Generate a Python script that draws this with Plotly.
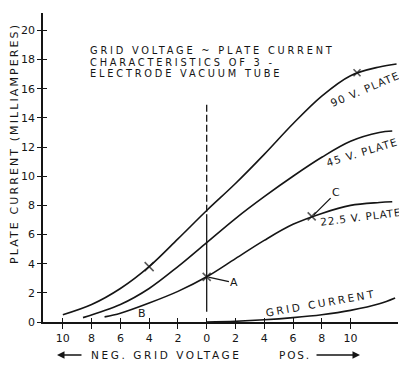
import plotly.graph_objects as go

# ---- data (grid volts, plate milliamperes) ----
v90 = [-10, -8, -6, -4, -2, 0, 2, 4, 6, 8, 10, 12, 13.2]
i90 = [0.5, 1.2, 2.3, 3.8, 5.7, 7.65, 9.5, 11.5, 13.6, 15.5, 16.9, 17.5, 17.7]
v45 = [-8.6, -6, -4, -2, 0, 2, 4, 6, 8, 10, 12, 12.9]
i45 = [0.3, 1.2, 2.3, 3.8, 5.45, 7.1, 8.6, 10.0, 11.3, 12.4, 13.0, 13.1]
v22 = [-7.1, -6, -4, -2, 0, 2, 4, 6, 8, 10, 12, 12.9]
i22 = [0.35, 0.6, 1.3, 2.1, 3.1, 4.35, 5.6, 6.7, 7.45, 8.0, 8.2, 8.25]
vg = [0, 2, 4, 6, 8, 10, 12, 13.1]
ig = [0, 0.05, 0.15, 0.3, 0.5, 0.8, 1.25, 1.65]

mark_v = [-4, 0, 7.3, 10.45]
mark_i = [3.8, 3.1, 7.25, 17.1]

ref_v = 0
ref_dash = [14.9, 7.4]
ref_solid = [7.4, 0.7]

x_ticks = [-10, -8, -6, -4, -2, 0, 2, 4, 6, 8, 10]
x_labels = ["10", "8", "6", "4", "2", "0", "2", "4", "6", "8", "10"]
y_ticks = [0, 2, 4, 6, 8, 10, 12, 14, 16, 18, 20]

INK = "#151515"
FONT = "DejaVu Sans"

fig = go.Figure()
line = dict(color=INK, width=1.6, shape="spline", smoothing=1.0)
for v, i in [(v90, i90), (v45, i45), (v22, i22), (vg, ig)]:
    fig.add_trace(go.Scatter(x=v, y=i, mode="lines", line=line,
                             hoverinfo="skip", showlegend=False))

fig.add_trace(go.Scatter(x=[ref_v, ref_v], y=ref_dash, mode="lines",
                         line=dict(color=INK, width=1.3, dash="7px,3px"),
                         showlegend=False))
fig.add_trace(go.Scatter(x=[ref_v, ref_v], y=ref_solid, mode="lines",
                         line=dict(color=INK, width=1.3), showlegend=False))

fig.add_trace(go.Scatter(x=mark_v, y=mark_i, mode="markers",
                         marker=dict(symbol="x-thin", size=[9, 8, 8, 7],
                                     line=dict(color=INK, width=1.6)),
                         showlegend=False))

# overlay axes for crossing ticks
fig.add_trace(go.Scatter(x=[None], y=[None], xaxis="x2", yaxis="y2",
                         showlegend=False))

xr = [-11.38, 13.3]
yr = [0, 21.2]
tickfont = dict(family=FONT, size=11, color=INK)
# page body has an 8px margin: figure sized/margined to compensate
fig.update_layout(
    width=399, height=358,
    margin=dict(l=35, r=9, t=5, b=44),
    paper_bgcolor="white", plot_bgcolor="white",
    xaxis=dict(range=xr, showline=True, linewidth=1.8, linecolor=INK,
               ticks="outside", ticklen=5, tickwidth=1.3, tickcolor=INK,
               tickvals=x_ticks, ticktext=x_labels, tickfont=tickfont,
               showgrid=False, zeroline=False),
    yaxis=dict(range=yr, showline=True, linewidth=1.8, linecolor=INK,
               ticks="outside", ticklen=4, tickwidth=1.3, tickcolor=INK,
               tickvals=y_ticks, tickfont=tickfont,
               showgrid=False, zeroline=False),
    xaxis2=dict(range=xr, overlaying="x", anchor="y2", side="bottom",
                ticks="inside", ticklen=4, tickwidth=1.3, tickcolor=INK,
                tickvals=x_ticks, showticklabels=False, showline=False,
                showgrid=False, zeroline=False),
    yaxis2=dict(range=yr, overlaying="y", anchor="x2", side="left",
                ticks="inside", ticklen=4, tickwidth=1.3, tickcolor=INK,
                tickvals=y_ticks, showticklabels=False, showline=False,
                showgrid=False, zeroline=False),
)


def sp(text, ls):
    return '<span style="letter-spacing:%spx">%s</span>' % (ls, text)


def txt(text, x, y, size=11, angle=0, xanchor="center", xref="x", yref="y", ls=0):
    fig.add_annotation(text=sp(text, ls) if ls else text, x=x, y=y,
                       xref=xref, yref=yref,
                       showarrow=False, textangle=angle, xanchor=xanchor,
                       yanchor="middle", borderpad=0,
                       font=dict(family=FONT, size=size, color=INK))


# title block
txt("GRID VOLTAGE ~ PLATE CURRENT", -8.15, 18.62, size=9.8, xanchor="left", ls=2.8)
txt("CHARACTERISTICS OF 3 -", -8.15, 17.83, size=9.8, xanchor="left", ls=2.8)
txt("ELECTRODE VACUUM TUBE", -8.15, 17.08, size=9.8, xanchor="left", ls=2.8)

# curve labels
txt("90 V. PLATE", 11.0, 15.98, size=10.5, angle=-23, ls=1.2)
txt("45 V. PLATE", 10.8, 11.66, size=10.5, angle=-17, ls=1.2)
txt("22.5 V. PLATE", 10.66, 7.2, size=10.5, angle=-7, ls=0.8)
txt("GRID CURRENT", 7.96, 1.3, size=10.5, angle=-10, ls=2.6)
txt("B", -4.5, 0.55, size=11)

# pointer labels
fig.add_annotation(text="A", x=0.05, y=3.1, ax=27, ay=6, showarrow=True,
                   arrowhead=0, arrowwidth=1.3, arrowcolor=INK, standoff=1,
                   font=dict(family=FONT, size=11, color=INK))
fig.add_annotation(text="C", x=7.4, y=7.3, ax=23, ay=-23, showarrow=True,
                   arrowhead=0, arrowwidth=1.3, arrowcolor=INK, standoff=1,
                   font=dict(family=FONT, size=11, color=INK))

# y axis title
txt("PLATE CURRENT (MILLIAMPERES)", -0.082, 0.579, size=11, angle=-90,
    xref="paper", yref="paper", ls=2.1)

# bottom caption
txt("NEG. GRID VOLTAGE", 0.132, -0.107, size=10.5, xanchor="left",
    xref="paper", yref="paper", ls=2.6)
txt("POS.", 0.662, -0.107, size=10.5, xanchor="left", xref="paper",
    yref="paper", ls=1.8)
fig.add_annotation(text="", x=0.0394, y=-0.107, xref="paper", yref="paper",
                   ax=26, ay=0, showarrow=True, arrowhead=2, arrowsize=1,
                   arrowwidth=1.5, arrowcolor=INK)
fig.add_annotation(text="", x=0.893, y=-0.107, xref="paper", yref="paper",
                   ax=-45, ay=0, showarrow=True, arrowhead=2, arrowsize=1,
                   arrowwidth=1.5, arrowcolor=INK)

fig.write_html("out.html")
